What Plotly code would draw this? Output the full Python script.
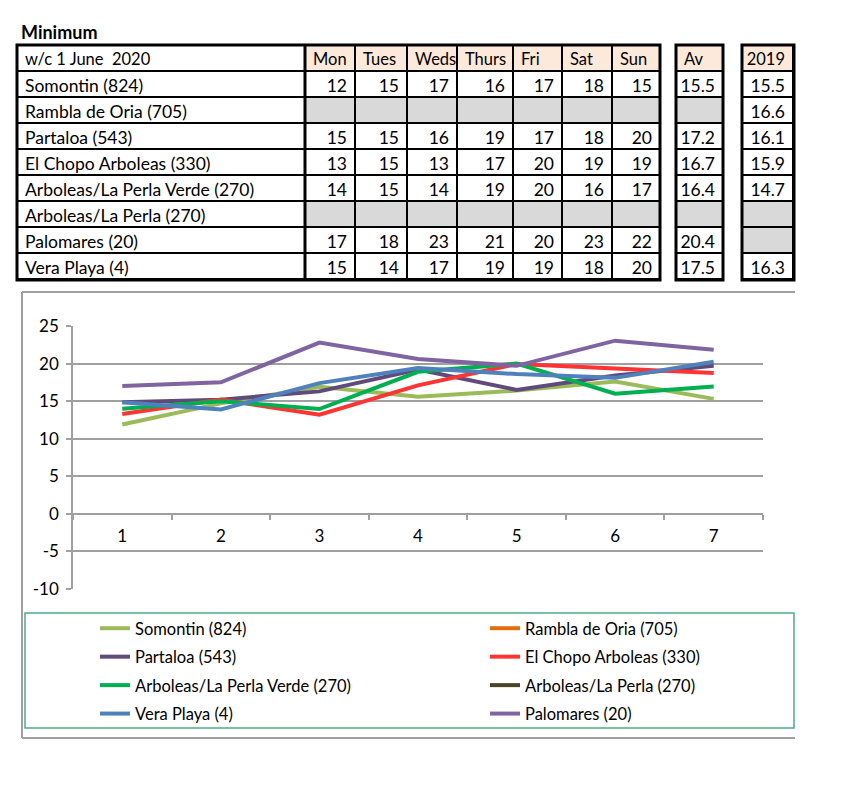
import plotly.graph_objects as go

# page body has an 8px margin; keep the figure inside the 852x800 window
PAGE_W, PAGE_H, BODY = 852, 800, 8
W, H = PAGE_W - 2 * BODY, PAGE_H - 2 * BODY
FONT = "Lato"

# ---------------- data ----------------
stations = ["Somontin (824)", "Rambla de Oria (705)", "Partaloa (543)", "El Chopo Arboleas (330)",
            "Arboleas/La Perla Verde (270)", "Arboleas/La Perla (270)", "Palomares (20)", "Vera Playa (4)"]
days = ["Mon", "Tues", "Weds", "Thurs", "Fri", "Sat", "Sun"]
week_label = "w/c 1 June  2020"

table_mon = [12, None, 15, 13, 14, None, 17, 15]
table_tue = [15, None, 15, 15, 15, None, 18, 14]
table_wed = [17, None, 16, 13, 14, None, 23, 17]
table_thu = [16, None, 19, 17, 19, None, 21, 19]
table_fri = [17, None, 17, 20, 20, None, 20, 19]
table_sat = [18, None, 18, 19, 16, None, 23, 18]
table_sun = [15, None, 20, 19, 17, None, 22, 20]
table_av = [15.5, None, 17.2, 16.7, 16.4, None, 20.4, 17.5]
table_2019 = [15.5, 16.6, 16.1, 15.9, 14.7, None, None, 16.3]

x_days = ["1", "2", "3", "4", "5", "6", "7"]
y_ticks = [-10, -5, 0, 5, 10, 15, 20, 25]
y_tick_text = ["-10", "-5", "0", "5", "10", "15", "20", "25"]

somontin = [11.9, 14.7, 16.9, 15.6, 16.4, 17.6, 15.3]
rambla = [None] * 7
partaloa = [14.85, 15.2, 16.3, 19.2, 16.5, 18.4, 19.7]
el_chopo = [13.3, 15.2, 13.2, 17.1, 19.95, 19.3, 18.75]
perla_verde = [14.0, 15.0, 13.95, 18.9, 20.0, 16.0, 16.95]
la_perla = [None] * 7
vera_playa = [14.85, 13.9, 17.4, 19.4, 18.6, 18.1, 20.25]
palomares = [17.0, 17.5, 22.8, 20.6, 19.7, 23.05, 21.85]

# ---------------- helpers (page pixels -> paper fraction) ----------------
def px_x(v):
    return (v - BODY) / W

def px_y(v):
    return 1 - (v - BODY) / H

def fmt_int(v):
    return "" if v is None else str(v)

def fmt_dec(v):
    return "" if v is None else f"{v:.1f}"

PEACH = "#FDE9D9"
GREY = "#D9D9D9"
WHITE = "#FFFFFF"
TFONT = dict(family=FONT, size=17.5, color="black")
HFONT = dict(family=FONT, size=16.5, color="black")
TOP, BOT = 45, 280

fig = go.Figure()

# ---------------- main table ----------------
day_cols = [table_mon, table_tue, table_wed, table_thu, table_fri, table_sat, table_sun]
cell_values = [stations] + [[fmt_int(v) for v in col] for col in day_cols]
cell_fill = [[WHITE] * len(stations)] + [[GREY if v is None else WHITE for v in col] for col in day_cols]

fig.add_trace(go.Table(
    domain=dict(x=[px_x(17), px_x(660)], y=[px_y(BOT + 4), px_y(TOP)]),
    columnwidth=[288, 50, 52, 50, 56, 49, 50, 48],
    header=dict(values=[week_label] + days, height=26,
                fill_color=[WHITE] + [PEACH] * 7,
                line=dict(color="black", width=2),
                align="left", font=HFONT),
    cells=dict(values=cell_values, height=26, fill_color=cell_fill,
               line=dict(color="black", width=2),
               align=["left"] + ["right"] * 7, font=TFONT),
))

# ---------------- Av table ----------------
fig.add_trace(go.Table(
    domain=dict(x=[px_x(676), px_x(723)], y=[px_y(BOT + 4), px_y(TOP)]),
    header=dict(values=["Av"], height=26, fill_color=PEACH,
                line=dict(color="black", width=2), align="left", font=HFONT),
    cells=dict(values=[[fmt_dec(v) for v in table_av]], height=26,
               fill_color=[[GREY if v is None else WHITE for v in table_av]],
               line=dict(color="black", width=2), align="right", font=TFONT),
))

# ---------------- 2019 table ----------------
fig.add_trace(go.Table(
    domain=dict(x=[px_x(742), px_x(794)], y=[px_y(BOT + 4), px_y(TOP)]),
    header=dict(values=["2019"], height=26, fill_color=PEACH,
                line=dict(color="black", width=2), align="right", font=HFONT),
    cells=dict(values=[[fmt_dec(v) for v in table_2019]], height=26,
               fill_color=[[GREY if v is None else WHITE for v in table_2019]],
               line=dict(color="black", width=2), align="right", font=TFONT),
))

# ---------------- chart lines ----------------
series = [
    ("Somontin (824)", somontin, "#9BBB59", "legend"),
    ("Rambla de Oria (705)", rambla, "#E46C0A", "legend2"),
    ("Partaloa (543)", partaloa, "#604A7B", "legend"),
    ("El Chopo Arboleas (330)", el_chopo, "#FF3333", "legend2"),
    ("Arboleas/La Perla Verde (270)", perla_verde, "#00B050", "legend"),
    ("Arboleas/La Perla (270)", la_perla, "#4A452A", "legend2"),
    ("Vera Playa (4)", vera_playa, "#4F81BD", "legend"),
    ("Palomares (20)", palomares, "#8064A2", "legend2"),
]
for i, (name, vals, col, lg) in enumerate(series):
    fig.add_trace(go.Scatter(
        x=x_days, y=vals, name=name, mode="lines",
        line=dict(color=col, width=4),
        legend=lg, legendgroup=f"g{i}",
        xaxis="x", yaxis="y",
    ))

AXC = "#A0A0A0"
y_dom = [px_y(589), px_y(326)]
y_min, y_max = -10, 25
zero_pos = y_dom[0] + (y_dom[1] - y_dom[0]) * (0 - y_min) / (y_max - y_min)

legend_common = dict(
    orientation="v", bgcolor="rgba(0,0,0,0)", borderwidth=0,
    font=dict(family=FONT, size=16.5, color="black"),
    traceorder="grouped", tracegroupgap=4,
    xanchor="left", yanchor="top", itemwidth=30,
)

fig.update_layout(
    width=W, height=H,
    margin=dict(l=0, r=0, t=0, b=0, pad=0, autoexpand=False),
    paper_bgcolor="white", plot_bgcolor="white",
    font=dict(family=FONT, size=17, color="black"),
    xaxis=dict(
        type="category", domain=[px_x(73), px_x(763)], range=[-0.5, 6.5],
        anchor="free", position=zero_pos,
        tickson="boundaries", ticks="outside", ticklen=5, tickcolor=AXC, tickwidth=1.5,
        showline=True, linecolor=AXC, linewidth=1.5, showgrid=False,
        ticklabelstandoff=7,
        tickfont=dict(family=FONT, size=17, color="black"),
    ),
    yaxis=dict(
        domain=y_dom, range=[y_min, y_max],
        tickmode="array", tickvals=y_ticks, ticktext=y_tick_text,
        ticks="outside", ticklen=5, tickcolor=AXC, tickwidth=1.5,
        showline=True, linecolor=AXC, linewidth=1.5,
        showgrid=True, gridcolor=AXC, gridwidth=1.5, zeroline=False,
        ticklabelstandoff=4,
        tickfont=dict(family=FONT, size=17, color="black"),
    ),
    legend=dict(x=px_x(95), y=px_y(611), **legend_common),
    legend2=dict(x=px_x(485), y=px_y(611), **legend_common),
    showlegend=True,
)

# title
fig.add_annotation(text="<b>Minimum</b>", x=px_x(19), y=px_y(32), xref="paper", yref="paper",
                   xanchor="left", yanchor="middle", showarrow=False,
                   font=dict(family=FONT, size=18, color="black"))

# thick table borders
for (x0, x1) in [(17, 660), (676, 723), (742, 794)]:
    fig.add_shape(type="rect", xref="paper", yref="paper",
                  x0=px_x(x0), x1=px_x(x1), y0=px_y(BOT), y1=px_y(TOP),
                  line=dict(color="black", width=3), layer="above")
fig.add_shape(type="line", xref="paper", yref="paper",
              x0=px_x(305), x1=px_x(305), y0=px_y(BOT), y1=px_y(TOP),
              line=dict(color="black", width=3), layer="above")

# chart outer frame (right side cut off)
for (x0, y0, x1, y1) in [(22, 292, 795, 292), (22, 292, 22, 738), (22, 738, 795, 738)]:
    fig.add_shape(type="line", xref="paper", yref="paper",
                  x0=px_x(x0), y0=px_y(y0), x1=px_x(x1), y1=px_y(y1),
                  line=dict(color=AXC, width=2), layer="below")

# legend frame
fig.add_shape(type="rect", xref="paper", yref="paper",
              x0=px_x(25), x1=px_x(794), y0=px_y(728), y1=px_y(613),
              line=dict(color="#4CAF85", width=1.5), layer="below")

fig.write_html("out.html")
